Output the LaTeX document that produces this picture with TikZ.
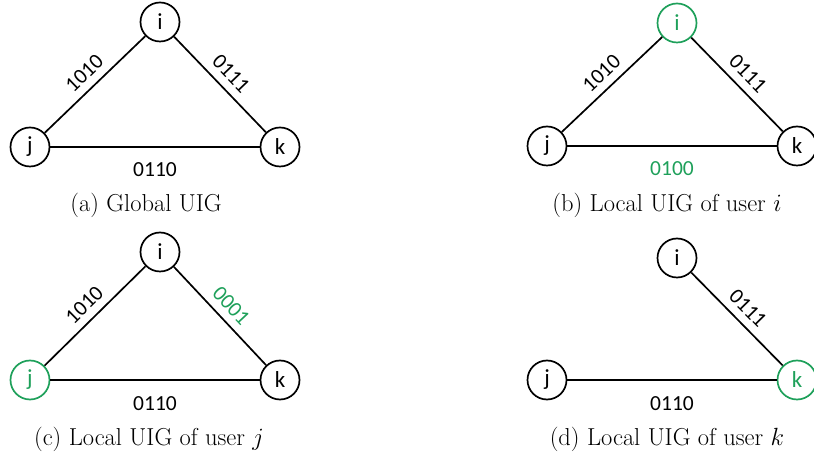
\documentclass[tikz,border=0pt]{standalone}
\usepackage{fontspec}
\newfontfamily\lblfont{Carlito}
\definecolor{uiggreen}{RGB}{30,160,90}
\begin{document}
\begin{tikzpicture}[x=1pt,y=1pt,
  user/.style={circle,draw,line width=1.7pt,minimum size=39pt,inner sep=0pt,font=\lblfont\fontsize{23}{25}\selectfont},
  link/.style={line width=1.7pt},
  elab/.style={font=\lblfont\fontsize{21.5}{23}\selectfont,inner sep=6pt},
  slab/.style={elab,sloped,above,inner sep=7.5pt},
  captext/.style={font=\fontsize{24.5}{28}\selectfont},
  hl/.style={draw=uiggreen,text=uiggreen}]
\useasboundingbox (0,0) rectangle (814,460);
\clip (0,0) rectangle (814,460);
% (a)
\node[user] (ai) at (160,438) {i};
\node[user] (aj) at (30,313) {j};
\node[user] (ak) at (280,313) {k};
\draw[link] (aj) -- node[slab] {1010} (ai);
\draw[link] (ai) -- node[slab] {0111} (ak);
\draw[link] (aj) -- node[elab,below,yshift=-9pt] {0110} (ak);
\node[captext] (acap) at (146,255) {(a) Global UIG};
% (b)
\node[user,hl] (bi) at (677,437) {i};
\node[user] (bj) at (547,314) {j};
\node[user] (bk) at (797,314) {k};
\draw[link] (bj) -- node[slab] {1010} (bi);
\draw[link] (bi) -- node[slab] {0111} (bk);
\draw[link] (bj) -- node[elab,below,yshift=-9pt,text=uiggreen] {0100} (bk);
\node[captext] (bcap) at (667,255) {(b) Local UIG of user $i$};
% (c)
\node[user] (ci) at (160,208) {i};
\node[user,hl] (cj) at (30,80) {j};
\node[user] (ck) at (280,80) {k};
\draw[link] (cj) -- node[slab] {1010} (ci);
\draw[link] (ci) -- node[slab,text=uiggreen] {0001} (ck);
\draw[link] (cj) -- node[elab,below,yshift=-10pt] {0110} (ck);
\node[captext] (ccap) at (149,21) {(c) Local UIG of user $j$};
% (d)
\node[user] (di) at (677,202) {i};
\node[user] (dj) at (547,80) {j};
\node[user,hl] (dk) at (797,80) {k};
\draw[link] (di) -- node[slab] {0111} (dk);
\draw[link] (dj) -- node[elab,below,yshift=-10pt] {0110} (dk);
\node[captext] (dcap) at (667,21) {(d) Local UIG of user $k$};
\end{tikzpicture}
\end{document}
